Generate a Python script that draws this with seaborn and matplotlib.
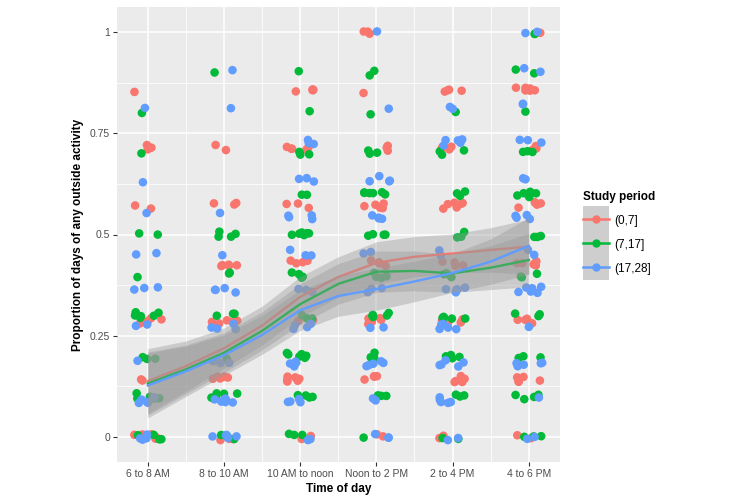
import numpy as np
import pandas as pd
import matplotlib.pyplot as plt
import seaborn as sns
from matplotlib.lines import Line2D
from matplotlib.patches import Patch, Rectangle
from matplotlib.legend_handler import HandlerTuple, HandlerPatch

# categorias do eixo x
times = ['6 to 8 AM', '8 to 10 AM', '10 AM to noon', 'Noon to 2 PM', '2 to 4 PM', '4 to 6 PM']
periods = ['(0,7]', '(7,17]', '(17,28]']
colors = ['#F8766D', '#00BA38', '#619CFF']

# niveis possiveis (k/7, k/10, k/11) e contagem de pontos por faixa horaria
red_levels = np.arange(8) / 7
red_counts = [[5, 2, 4, 0, 2, 3, 1, 0],
              [3, 6, 5, 5, 3, 2, 0, 0],
              [3, 6, 3, 4, 3, 5, 4, 0],
              [2, 4, 6, 4, 5, 3, 1, 3],
              [2, 6, 4, 4, 7, 4, 4, 0],
              [2, 5, 4, 5, 5, 3, 6, 1]]

green_levels = np.arange(11) / 10
green_counts = [[4, 5, 3, 6, 1, 2, 0, 1, 1, 0, 0],
                [3, 6, 1, 3, 2, 4, 0, 0, 0, 1, 0],
                [3, 4, 6, 3, 4, 6, 2, 3, 1, 1, 0],
                [1, 3, 3, 5, 4, 4, 6, 3, 1, 2, 0],
                [2, 3, 4, 5, 4, 3, 3, 3, 1, 0, 0],
                [3, 4, 3, 3, 3, 3, 5, 3, 1, 2, 2]]

blue_levels = np.arange(12) / 11
blue_counts = [[4, 5, 1, 2, 3, 2, 1, 1, 0, 1, 0, 0],
               [5, 6, 3, 4, 4, 1, 1, 0, 0, 1, 1, 0],
               [2, 4, 5, 4, 3, 3, 4, 3, 3, 0, 0, 0],
               [3, 2, 5, 2, 3, 2, 4, 4, 0, 1, 0, 1],
               [2, 5, 5, 5, 5, 2, 0, 0, 5, 2, 0, 0],
               [2, 1, 5, 1, 6, 2, 4, 2, 3, 2, 2, 2]]

# curvas suavizadas (loess)
smooth_x = [0, 0.5, 1, 1.5, 2, 2.5, 3, 3.5, 4, 4.5, 5]
red_fit = [0.138, 0.175, 0.219, 0.275, 0.346, 0.395, 0.430, 0.445, 0.453, 0.462, 0.470]
green_fit = [0.132, 0.167, 0.208, 0.262, 0.328, 0.378, 0.408, 0.410, 0.404, 0.418, 0.437]
blue_fit = [0.127, 0.162, 0.202, 0.252, 0.313, 0.348, 0.365, 0.384, 0.405, 0.433, 0.472]
red_se = [0.080, 0.062, 0.050, 0.048, 0.050, 0.050, 0.052, 0.050, 0.048, 0.055, 0.068]
green_se = [0.078, 0.060, 0.049, 0.047, 0.050, 0.050, 0.051, 0.049, 0.047, 0.054, 0.066]
blue_se = [0.080, 0.062, 0.050, 0.048, 0.050, 0.050, 0.052, 0.050, 0.048, 0.056, 0.070]

# montando o dataframe com jitter
rng = np.random.default_rng(7)
rows = []
for period, levels, counts in zip(periods, [red_levels, green_levels, blue_levels],
                                  [red_counts, green_counts, blue_counts]):
    for i in range(len(times)):
        for lev, n in zip(levels, counts[i]):
            for _ in range(n):
                rows.append((period, i + rng.uniform(-0.18, 0.18), lev + rng.uniform(-0.008, 0.008)))
df = pd.DataFrame(rows, columns=['period', 'x', 'y'])

plt.rcParams['font.family'] = ['Liberation Sans', 'DejaVu Sans']
fig = plt.figure(figsize=(7.33, 5), dpi=100)
ax = fig.add_axes([117 / 733, 38 / 500, 443 / 733, 455 / 500])
ax.set_facecolor('#EBEBEB')
for s in ax.spines.values():
    s.set_visible(False)

sns.scatterplot(data=df, x='x', y='y', hue='period', hue_order=periods, palette=colors,
                s=38, linewidth=0, alpha=1, legend=False, ax=ax, zorder=2)

# faixas e linhas de tendencia
for fit, se, c in zip([red_fit, green_fit, blue_fit], [red_se, green_se, blue_se], colors):
    fit = np.array(fit)
    se = np.array(se)
    ax.fill_between(smooth_x, fit - se, fit + se, color='#999999', alpha=0.4, lw=0, zorder=3)
    sns.lineplot(x=smooth_x, y=fit, color=c, linewidth=1.7, ax=ax, zorder=3)

ax.set_xlim(-0.405, 5.41)
ax.set_ylim(-0.062, 1.062)
ax.set_xticks(range(6))
ax.set_xticklabels(times)
ax.set_xticks(np.arange(0.5, 5, 1), minor=True)
ax.set_yticks([0, 0.25, 0.5, 0.75, 1])
ax.set_yticklabels(['0', '0.25', '0.5', '0.75', '1'])
ax.set_yticks([0.125, 0.375, 0.625, 0.875], minor=True)
ax.grid(True, which='major', color='white', linewidth=1.1)
ax.grid(True, which='minor', color='white', linewidth=0.55)
ax.set_axisbelow(True)
ax.tick_params(which='major', length=3, width=0.8, color='#333333', labelcolor='#4D4D4D', labelsize=7.5, pad=2)
ax.tick_params(which='minor', length=0)
ax.set_xlabel('Time of day', fontweight='bold', fontsize=8.5, labelpad=3)
ax.set_ylabel('Proportion of days of any outside activity', fontweight='bold', fontsize=8.5, labelpad=4)


# fundo cinza da chave da legenda, centrado na linha
def key_patch(legend, orig_handle, xdescent, ydescent, width, height, fontsize):
    yl = (height - ydescent) / 2
    pitch = height + legend.labelspacing * fontsize + 2.5
    return Rectangle((-xdescent, yl - pitch / 2), width, pitch)


handles = [(Patch(fc='#CECECE', ec='none'), Line2D([], [], color=c, marker='o', ms=5, lw=1.8)) for c in colors]
leg = fig.legend(handles=handles, labels=periods,
                 handler_map={tuple: HandlerTuple(ndivide=1, pad=0), Patch: HandlerPatch(patch_func=key_patch)},
                 title='Study period', loc='upper left', bbox_to_anchor=(572 / 733, 1 - 180 / 500),
                 frameon=False, handlelength=2.25, handleheight=1.0, labelspacing=1.0, handletextpad=0.45,
                 fontsize=8.5, title_fontproperties={'weight': 'bold', 'size': 8.5}, alignment='left')

plt.savefig('out.png', dpi=100)
